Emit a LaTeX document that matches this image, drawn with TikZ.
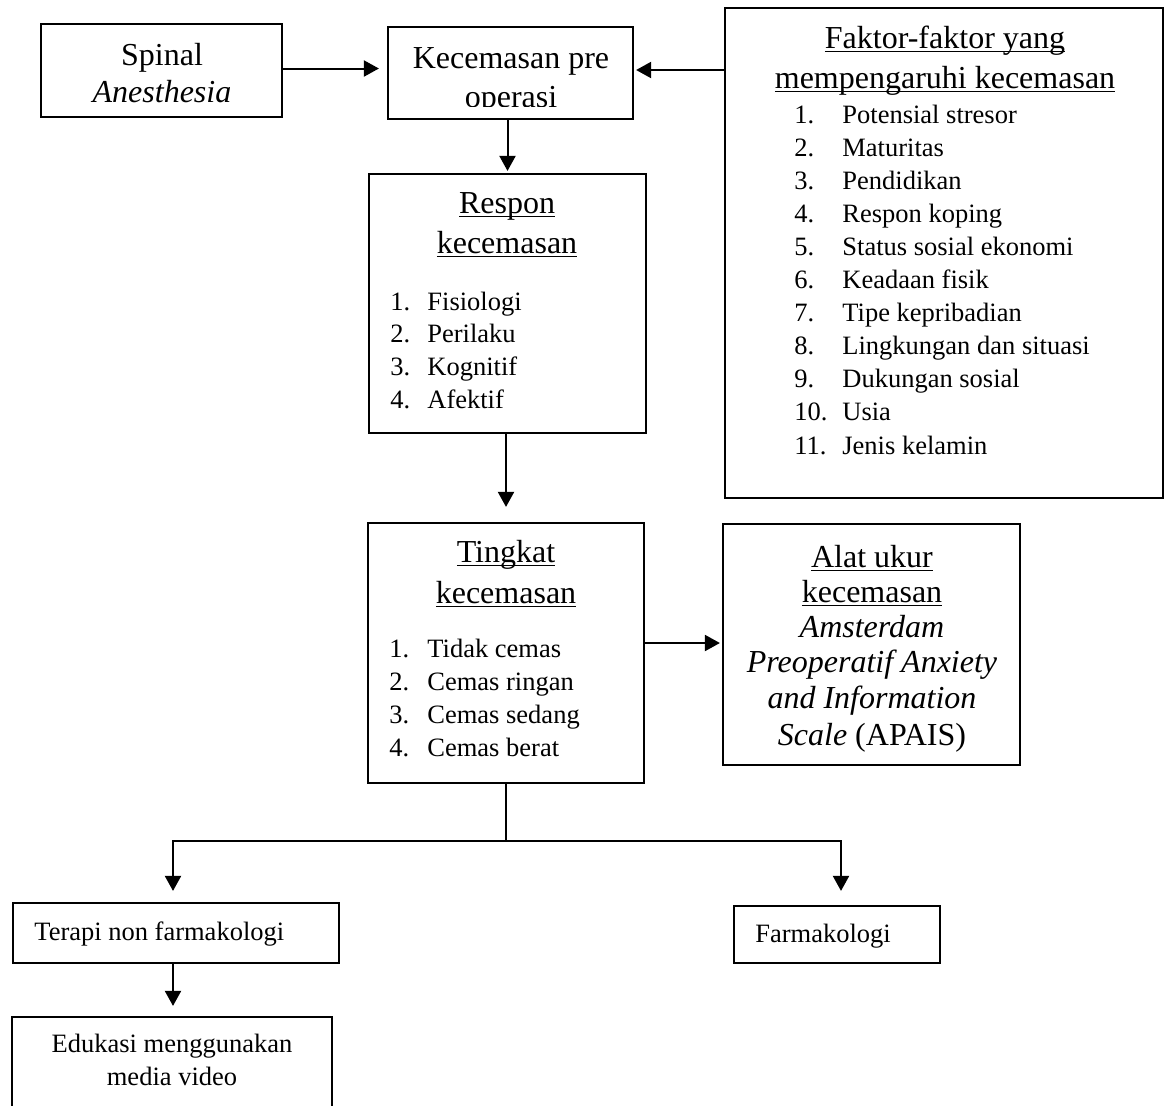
\documentclass[tikz,border=0pt]{standalone}
\usepackage{fontspec}
\setmainfont{Liberation Serif}
\usetikzlibrary{arrows.meta,fit}
\newcommand{\ulx}[1]{\setbox0\hbox{#1}\rlap{\rule[-2.2pt]{\wd0}{0.75pt}}\box0}
\begin{document}
\begin{tikzpicture}[x=0.5pt,y=-0.5pt,
  box/.style={draw, line width=1.1pt, inner sep=0pt},
  ttl/.style={anchor=base, font=\fontsize{16}{19}\selectfont, inner sep=0pt},
  lst/.style={anchor=base west, font=\fontsize{13.25}{16}\selectfont, inner sep=0pt},
  lstc/.style={anchor=base, font=\fontsize{13.25}{16}\selectfont, inner sep=0pt},
  arr/.style={line width=1pt, -{Triangle[length=7.5pt,width=8pt]}},
  ln/.style={line width=1pt}]
\useasboundingbox[fill=white] (0,0) rectangle (1166,1105);

% boxes
\node[box, fit={(41,24) (282,117)}] (spinal) {};
\node[box, fit={(388,27) (633,119)}] (kec) {};
\node[box, fit={(725,8) (1163,498)}] (faktor) {};
\node[box, fit={(369,174) (646,433)}] (respon) {};
\node[box, fit={(368,523) (644,783)}] (tingkat) {};
\node[box, fit={(723,524) (1020,765)}] (alat) {};
\node[box, fit={(13,903) (339,963)}] (terapi) {};
\node[box, fit={(734,906) (940,963)}] (farma) {};
\node[box, fit={(12,1017) (332,1130)}] (edukasi) {};

% Spinal
\node[ttl] (sp1) at (162,65) {Spinal};
\node[ttl] (sp2) at (162,102) {\textit{Anesthesia}};

% Kecemasan pre operasi (second line clipped as in the reference)
\node[ttl] (kc1) at (511,68) {Kecemasan pre};
\begin{scope}
  \clip (390,80) rectangle (630,106);
  \node[ttl] (kc2) at (511,107) {operasi};
\end{scope}

% Faktor
\node[ttl] (fk1) at (945,48) {\ulx{Faktor-faktor yang}};
\node[ttl] (fk2) at (945,88) {\ulx{mempengaruhi kecemasan}};
\foreach \t [count=\i] in {Potensial stresor, Maturitas, Pendidikan, Respon koping, Status sosial ekonomi, Keadaan fisik, Tipe kepribadian, Lingkungan dan situasi, Dukungan sosial, Usia, Jenis kelamin}{
  \node[lst] (fn\i) at (794,{123+33.1*(\i-1)}) {\i.};
  \node[lst] (ft\i) at (842,{123+33.1*(\i-1)}) {\t};
}

% Respon
\node[ttl] (rp1) at (507,213) {\ulx{Respon}};
\node[ttl] (rp2) at (507,253) {\ulx{kecemasan}};
\foreach \t [count=\i] in {Fisiologi, Perilaku, Kognitif, Afektif}{
  \node[lst] (rn\i) at (390,{310+32.7*(\i-1)}) {\i.};
  \node[lst] (rt\i) at (427,{310+32.7*(\i-1)}) {\t};
}

% Tingkat
\node[ttl] (tk1) at (506,562) {\ulx{Tingkat}};
\node[ttl] (tk2) at (506,603) {\ulx{kecemasan}};
\foreach \t [count=\i] in {Tidak cemas, Cemas ringan, Cemas sedang, Cemas berat}{
  \node[lst] (tn\i) at (389,{657+33*(\i-1)}) {\i.};
  \node[lst] (tt\i) at (427,{657+33*(\i-1)}) {\t};
}

% Alat ukur
\node[ttl] (al1) at (872,567) {\ulx{Alat ukur}};
\node[ttl] (al2) at (872,602) {\ulx{kecemasan}};
\node[ttl] (al3) at (872,637) {\textit{Amsterdam}};
\node[ttl] (al4) at (872,672) {\textit{Preoperatif Anxiety}};
\node[ttl] (al5) at (872,708) {\textit{and Information}};
\node[ttl] (al6) at (872,745) {\textit{Scale} (APAIS)};

% bottom boxes
\node[lst] (tr1) at (34,940) {Terapi non farmakologi};
\node[lst] (fm1) at (755,942) {Farmakologi};
\node[lstc] (ed1) at (172,1052) {Edukasi menggunakan};
\node[lstc] (ed2) at (172,1085) {media video};

% connectors
\draw[arr, shorten >=4pt] ([yshift=1pt]spinal.east) -- ([yshift=1pt]spinal.east -| kec.west);
\draw[arr, shorten >=1pt] ([yshift=1.5pt]faktor.west |- kec.east) -- ([yshift=1.5pt]kec.east);
\draw[arr, shorten >=1pt] (kec.south -| respon.north) -- (respon.north);
\draw[arr, shorten >=7.5pt] (respon.south -| tingkat.north) -- (tingkat.north);
\draw[arr, shorten >=1pt] ([yshift=5pt]tingkat.east) -- ([yshift=5pt]tingkat.east -| alat.west);
\draw[ln] (tingkat.south) -- ++(0,57) coordinate (j);
\draw[arr, shorten >=5.5pt] (j) -| ([xshift=-1.5pt]terapi.north);
\draw[arr, shorten >=7pt] (j) -| ([xshift=2pt]farma.north);
\draw[arr, shorten >=5pt] ([xshift=-1.5pt]terapi.south) -- ([xshift=-1.5pt]terapi.south |- edukasi.north);
\end{tikzpicture}
\end{document}
